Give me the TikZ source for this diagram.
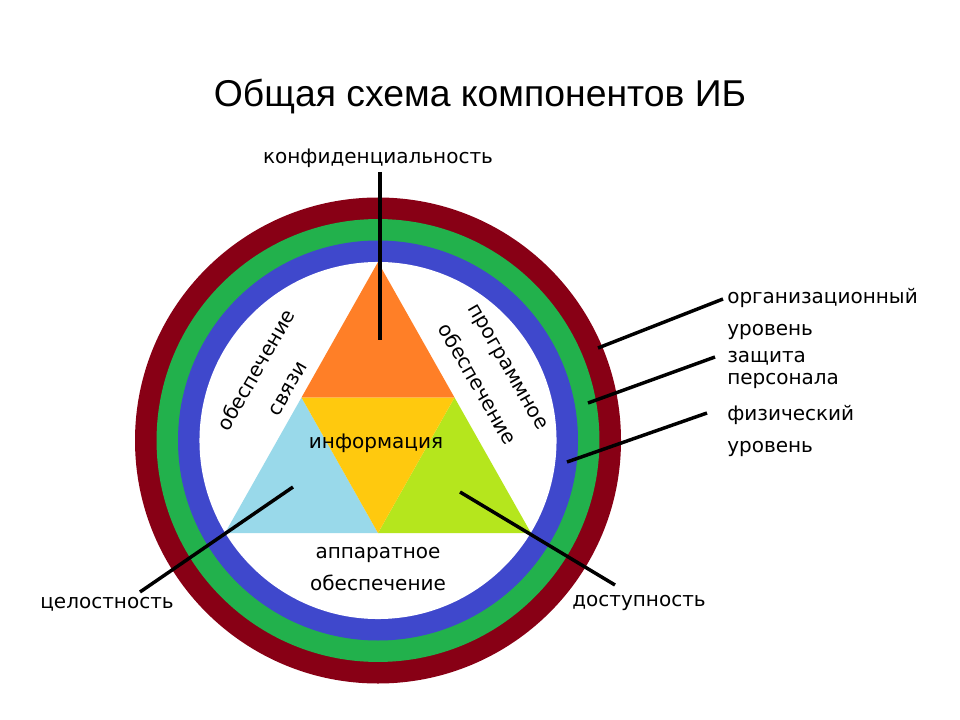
\documentclass[tikz,border=0pt]{standalone}
\usepackage{fontspec}
\setmainfont{Liberation Sans}
\newfontfamily\lab{DejaVu Sans}
\definecolor{ringred}{HTML}{880015}
\definecolor{ringgreen}{HTML}{22B14C}
\definecolor{ringblue}{HTML}{3F48CC}
\definecolor{triorange}{HTML}{FF7F27}
\definecolor{triyellow}{HTML}{FFC90E}
\definecolor{trilblue}{HTML}{99D9EA}
\definecolor{trilime}{HTML}{B5E61D}
\begin{document}
\begin{tikzpicture}[x=0.75pt,y=-0.75pt,
  lbl/.style={font=\lab\fontsize{15}{24}\selectfont, inner sep=0pt, align=center},
  rotlbl/.style={font=\lab\fontsize{15}{27}\selectfont, inner sep=0pt, align=center},
  lbll/.style={lbl, anchor=west, align=left},
  leader/.style={line width=2.6pt, black}]
\useasboundingbox (0,0) rectangle (960,720);
\fill[white] (0,0) rectangle (960,720);

\node (title) at (480,97) {\fontsize{28}{34}\selectfont Общая схема компонентов ИБ};

% rings
\coordinate (c) at (378,440.5);
\fill[ringred] (c) circle[radius=182.25pt];
\fill[ringgreen] (c) circle[radius=166.1pt];
\fill[ringblue] (c) circle[radius=150pt];
\fill[white] (c) circle[radius=133.9pt];

% triangle
\coordinate (A) at (378,262);
\coordinate (B) at (225,533);
\coordinate (C) at (531,533);
\coordinate (AB) at (301.5,397.5);
\coordinate (AC) at (454.5,397.5);
\coordinate (BC) at (378,533);
\fill[triorange] (A) -- (AB) -- (AC) -- cycle;
\fill[trilblue] (AB) -- (B) -- (BC) -- cycle;
\fill[trilime] (AC) -- (BC) -- (C) -- cycle;
\fill[triyellow] (AB) -- (AC) -- (BC) -- cycle;

% inner texts
\node[lbl] (info) at (376,443) {информация};
\node[lbl] (hw) at (378,569) {аппаратное\\обеспечение};
\node[rotlbl, rotate=60] (comm) at (271,379) {обеспечение\\связи};
\node[rotlbl, rotate=-60] (sw) at (492,376) {программное\\обеспечение};

% outer labels
\node[lbl] (conf) at (378,158) {конфиденциальность};
\node[lbll] (org) at (727,314) {организационный\\уровень};
\node[lbll] (pers) at (727,370) {защита\\[-8pt]персонала};
\node[lbll] (phys) at (727,431) {физический\\уровень};
\node[lbl] (integ) at (107,604) {целостность};
\node[lbl] (avail) at (639,603) {доступность};

% leader endpoints
\coordinate (confT) at (380,172);
\coordinate (confE) at (380,340);
\coordinate (orgS) at (723,299);
\coordinate (orgE) at (598,348);
\coordinate (persS) at (715,357);
\coordinate (persE) at (588,403);
\coordinate (physS) at (707,413);
\coordinate (physE) at (567,462);
\coordinate (integS) at (140,592);
\coordinate (integE) at (293,487);
\coordinate (availS) at (615,585);
\coordinate (availE) at (460,492);

\draw[leader] (confT) -- (confE);
\draw[leader] (orgS) -- (orgE);
\draw[leader] (persS) -- (persE);
\draw[leader] (physS) -- (physE);
\draw[leader] (integS) -- (integE);
\draw[leader] (availS) -- (availE);
\end{tikzpicture}
\end{document}
